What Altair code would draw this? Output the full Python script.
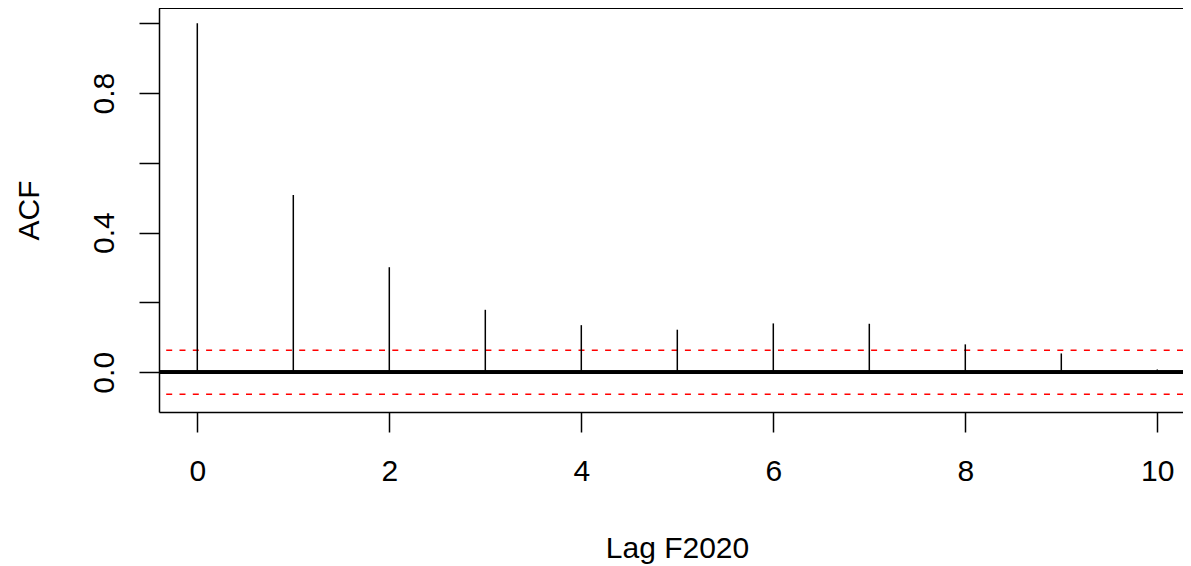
import altair as alt
import pandas as pd

lags = [0, 1, 2, 3, 4, 5, 6, 7, 8, 9, 10]
acf_values = [1.0, 0.508, 0.301, 0.179, 0.135, 0.122, 0.140, 0.139, 0.080, 0.054, 0.008]
ci_bounds = [0.063, -0.063]
x_ticks = [0, 2, 4, 6, 8, 10]
y_ticks = [0.0, 0.2, 0.4, 0.6, 0.8, 1.0]
y_labels = ["0.0", "0.4", "0.8"]

W, H = 1024, 404
FONT = "Liberation Sans"
FS = 30
LW = 1.5

df = pd.DataFrame({"lag": lags, "acf": acf_values})
ci_df = pd.DataFrame({"ci": ci_bounds})

xscale = alt.Scale(domain=[-0.399, -0.399 + W / 96.0], nice=False, zero=False)
yscale = alt.Scale(domain=[-0.1138, 1.0437], nice=False, zero=False)

label_expr = "indexof(" + str(y_labels) + ", datum.label) >= 0 ? datum.label : ''"

spikes = alt.Chart(df).mark_rule(color="black", strokeWidth=LW).encode(
    x=alt.X("lag:Q", scale=xscale, axis=alt.Axis(
        values=x_ticks, title="Lag F2020", tickSize=20, labelPadding=48,
        labelBaseline="alphabetic", labelFontSize=FS, labelFont=FONT,
        labelColor="black", tickColor="black", domainColor="black",
        domainWidth=LW, tickWidth=LW, grid=False, labelFlush=False,
        titleFontSize=FS, titleFont=FONT, titleFontWeight="normal",
        titleColor="black", titleX=518, titleY=145, titleAnchor="start",
        titleAlign="center", titleBaseline="alphabetic")),
    y=alt.Y("acf:Q", scale=yscale, axis=alt.Axis(
        values=y_ticks, format=".1f", labelExpr=label_expr, title="ACF",
        tickSize=20, labelPadding=26, labelAngle=270, labelAlign="center",
        labelBaseline="alphabetic", labelFontSize=FS, labelFont=FONT,
        labelColor="black", tickColor="black", domainColor="black",
        domainWidth=LW, tickWidth=LW, grid=False, labelFlush=False,
        titleFontSize=FS, titleFont=FONT, titleFontWeight="normal",
        titleColor="black", titleAngle=270, titleX=-121, titleY=H / 2,
        titleAlign="center", titleBaseline="alphabetic")),
    y2=alt.datum(0),
)

zero_line = alt.Chart(df).mark_rule(color="black", strokeWidth=3).encode(
    y=alt.datum(0, scale=yscale),
)

ci_lines = alt.Chart(ci_df).mark_rule(
    color="#FF0000", strokeWidth=LW, strokeDash=[6, 7.3]
).encode(y=alt.Y("ci:Q", scale=yscale))

top_border = alt.Chart(df).mark_rule(color="black", strokeWidth=LW).encode(
    x=alt.value(0), x2=alt.value(W), y=alt.value(0)
)

chart = alt.layer(ci_lines, zero_line, spikes, top_border).properties(
    width=W, height=H,
    autosize=alt.AutoSizeParams(type="none"),
    padding={"left": 151, "top": 0, "right": 0, "bottom": 158},
).configure_view(stroke=None).configure(background="white")

chart.save("out.html", embed_options={"renderer": "svg", "actions": False})
